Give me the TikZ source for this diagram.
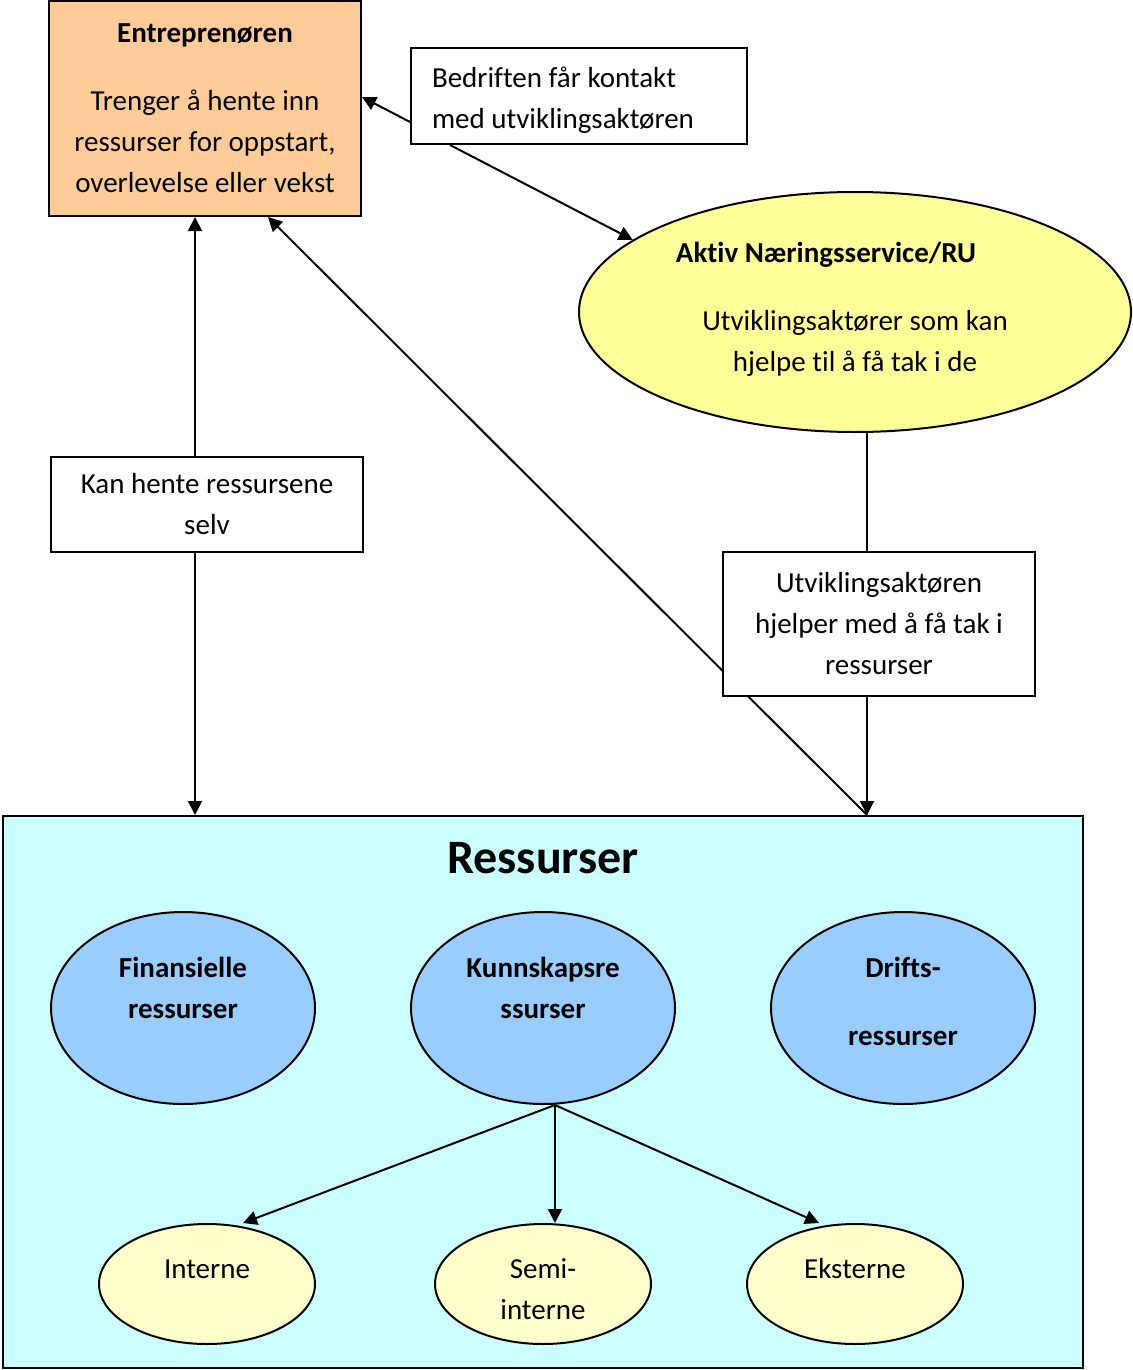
\documentclass[tikz,border=0pt]{standalone}
\usepackage{fontspec}
\setmainfont{Carlito}[Ligatures=NoCommon]
\usetikzlibrary{shapes.geometric,arrows.meta,calc}
\definecolor{peach}{HTML}{FFCC99}
\definecolor{yelA}{HTML}{FFFF99}
\definecolor{cyanA}{HTML}{CCFFFF}
\definecolor{blueA}{HTML}{99CCFF}
\definecolor{paleY}{HTML}{FFFFCC}
\begin{document}
\begin{tikzpicture}[x=0.5pt,y=-0.5pt,
  every node/.style={font=\fontsize{14.5}{20.5}\selectfont},
  bf/.style={font=\fontsize{14.5}{20.5}\selectfont\bfseries},
  box/.style={draw, line width=1pt, fill=white, inner sep=0pt, align=center},
  ell/.style={ellipse, draw, line width=1pt, inner sep=0pt},
  txt/.style={align=center, inner sep=0pt},
  arr/.style={line width=1pt, -{Triangle[length=7pt,width=7pt]}},
  ln/.style={line width=1pt}]
\useasboundingbox (0,0) rectangle (1132,1370);

% main shapes
\node[box, fill=cyanA, minimum width=540pt, minimum height=276pt] (res) at (543,1092) {};
\node[box, fill=peach, minimum width=156pt, minimum height=107.5pt] (entr) at (205,108.5)
  {\textbf{Entreprenøren}\\[13.5pt]Trenger å hente inn\\ressurser for oppstart,\\overlevelse eller vekst};
\node[box, minimum width=168pt, minimum height=48pt, align=flush left, text width=147pt] (bed) at (579,96)
  {\rule{0pt}{14.5pt}Bedriften får kontakt\\med utviklingsaktøren};
\node[ell, fill=yelA, minimum width=276pt, minimum height=120pt] (aktiv) at (855,312) {};
\node[txt, bf] (aktivT) at (826,255) {Aktiv Næringsservice/RU};
\node[txt] (aktivB) at (855,343) {Utviklingsaktører som kan\\hjelpe til å få tak i de};
\node[box, minimum width=156pt, minimum height=47.5pt] (kan) at (207,504.5) {Kan hente ressursene\\selv};

\coordinate (hub) at ([xshift=162pt]res.north);
\draw[arr] (hub) -- ([xshift=31.5pt]entr.south);

\node[box, minimum width=156pt, minimum height=72pt] (utv) at (879,624)
  {Utviklingsaktøren\\hjelper med å få tak i\\ressurser};

% connectors
\draw[arr] ([yshift=-13pt]bed.west) -- ([yshift=5.75pt]entr.east);
\draw[arr] ([xshift=20pt]bed.south west) -- (aktiv.162);
\draw[arr] ([xshift=-6pt]kan.north) -- ([xshift=-6pt]kan.north |- entr.south);
\draw[arr] ([xshift=-6pt]kan.south) -- ([xshift=-6pt]kan.south |- res.north);
\draw[ln] (hub |- aktiv.south) -- (hub |- utv.north);
\draw[arr] (hub |- utv.south) -- (hub);

% resources
\node[txt, font=\fontsize{24}{28}\selectfont\bfseries] (resT) at (543,858) {Ressurser};
\node[ell, fill=blueA, minimum width=132pt, minimum height=96pt] (fin) at (183,1008) {};
\node[ell, fill=blueA, minimum width=132pt, minimum height=96pt] (kunn) at (543,1008) {};
\node[ell, fill=blueA, minimum width=132pt, minimum height=96pt] (drift) at (903,1008) {};
\node[txt, bf] (finT) at (183,987.5) {Finansielle\\ressurser};
\node[txt, bf] (kunnT) at (543,987.5) {Kunnskapsre\\ssurser};
\node[txt, bf] (driftT) at (903,1001) {Drifts-\\[13.5pt]ressurser};

\node[ell, fill=paleY, minimum width=108pt, minimum height=60pt] (int) at (207,1284) {};
\node[ell, fill=paleY, minimum width=108pt, minimum height=60pt] (semi) at (543,1284) {};
\node[ell, fill=paleY, minimum width=108pt, minimum height=60pt] (eks) at (855,1284) {};
\node[txt] (intT) at (207,1269) {Interne};
\node[txt] (semiT) at (543,1289.5) {Semi-\\interne};
\node[txt] (eksT) at (855,1269) {Eksterne};

\coordinate (kb) at ([xshift=6pt]kunn.south);
\draw[arr] (kb) -- ([xshift=18pt]int.north);
\draw[arr] (kb) -- (kb |- semi.north);
\draw[arr] (kb) -- ([xshift=-18pt]eks.north);
\end{tikzpicture}
\end{document}
